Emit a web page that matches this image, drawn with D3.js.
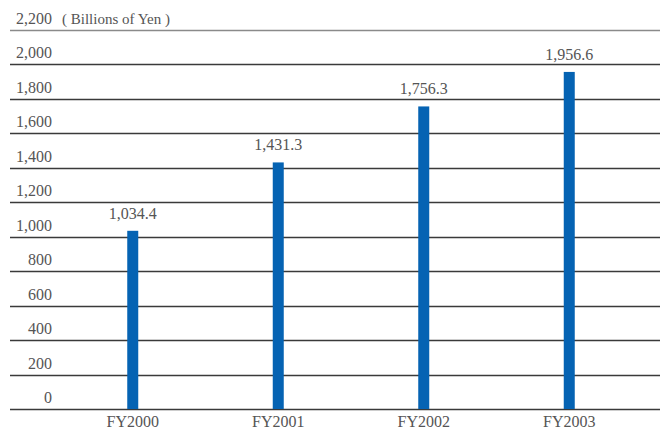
<!DOCTYPE html>
<html>
<head>
<meta charset="utf-8">
<script src="https://cdn.jsdelivr.net/npm/d3@7/dist/d3.min.js"></script>
<style>
  html, body { margin: 0; padding: 0; background: #fff; }
  svg { display: block; }
</style>
</head>
<body>
<script>
// Net sales by fiscal year
const categories = ["FY2000", "FY2001", "FY2002", "FY2003"];
const values = [1034.4, 1431.3, 1756.3, 1956.6];
const valueLabels = ["1,034.4", "1,431.3", "1,756.3", "1,956.6"];
const tickValues = [0, 200, 400, 600, 800, 1000, 1200, 1400, 1600, 1800, 2000, 2200];
const unitLabel = "( Billions of Yen )";

const W = 660, H = 429;
const FONT = "'Liberation Serif', 'Times New Roman', Times, 'DejaVu Serif', serif";
const svg = d3.select("body").append("svg").attr("width", W).attr("height", H)
  .attr("font-family", FONT);

const y = d3.scaleLinear().domain([0, 2200]).range([409, 30]);
const x = d3.scaleBand().domain(categories).range([60, 642]).paddingInner(0).paddingOuter(0);
const barW = 11;

// horizontal grid lines with labels above the left end
const grid = svg.append("g");
tickValues.forEach(v => {
  const yy = Math.round(y(v)) + 0.5;
  grid.append("line")
    .attr("x1", 10).attr("x2", W)
    .attr("y1", yy).attr("y2", yy)
    .attr("stroke", v === 2200 ? "#8a8a8a" : "#3a3a3a")
    .attr("stroke-width", 1.4);
  grid.append("text")
    .attr("x", 52).attr("y", yy - 7)
    .attr("text-anchor", "end")
    .attr("font-size", 16)
    .attr("fill", "#555")
    .text(d3.format(",")(v));
});

svg.append("text")
  .attr("x", 62).attr("y", Math.round(y(2200)) - 6.5)
  .attr("font-size", 15)
  .attr("fill", "#555")
  .text(unitLabel);

// bars
svg.append("g").selectAll("rect")
  .data(values)
  .join("rect")
  .attr("x", (d, i) => x(categories[i]) + x.bandwidth() / 2 - barW / 2)
  .attr("width", barW)
  .attr("y", d => y(d))
  .attr("height", d => y(0) - y(d))
  .attr("fill", "#0563b3");

// value labels
svg.append("g").selectAll("text")
  .data(values)
  .join("text")
  .attr("x", (d, i) => x(categories[i]) + x.bandwidth() / 2)
  .attr("y", d => y(d) - 12)
  .attr("text-anchor", "middle")
  .attr("font-size", 16)
  .attr("fill", "#555")
  .text((d, i) => valueLabels[i]);

// category axis labels
svg.append("g").selectAll("text")
  .data(categories)
  .join("text")
  .attr("x", d => x(d) + x.bandwidth() / 2)
  .attr("y", 427)
  .attr("text-anchor", "middle")
  .attr("font-size", 16)
  .attr("fill", "#555")
  .text(d => d);
</script>
</body>
</html>
